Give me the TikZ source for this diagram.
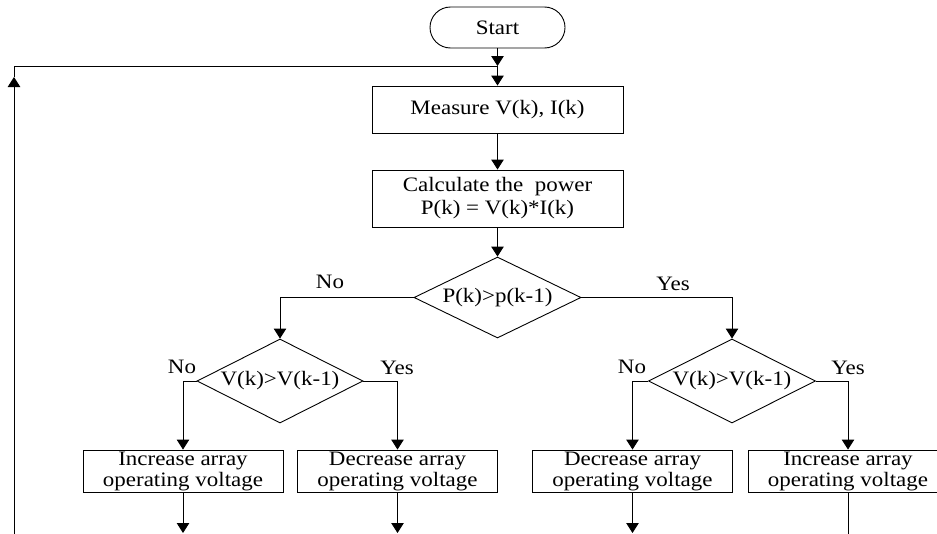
\documentclass[tikz,border=0pt]{standalone}
\usepackage{fontspec}
\setmainfont{Liberation Serif}
\usepackage{graphicx}
\usetikzlibrary{shapes.geometric,shapes.misc,arrows.meta}
\newcommand{\hs}[1]{\scalebox{1.12}[1]{#1}}
\newcommand{\fs}{\fontsize{20.5}{21}\selectfont}
\begin{document}
\begin{tikzpicture}[x=1pt,y=-1pt,line width=0.9pt,
  box/.style={draw, rectangle, inner sep=0pt, align=center, font=\fs},
  term/.style={draw, rounded rectangle, inner sep=0pt, minimum width=135pt, minimum height=41pt, font=\fs},
  decision/.style={draw, diamond, inner sep=0pt, aspect=2, font=\fs},
  arr/.style={-{Triangle[width=12.5pt,length=10pt]}},
  lbl/.style={inner sep=0pt, font=\fs}]
\useasboundingbox (0,0) rectangle (937,533);
\fill[white] (0,0) rectangle (937,533);

\node[term] (start) at (497.5,27.5) {\hs{Start}};
\node[box, minimum width=251pt, minimum height=47pt] (meas) at (497.5,109.5) {\hs{Measure V(k), I(k)}};
\node[box, minimum width=251pt, minimum height=57pt, font=\fontsize{20.5}{23}\selectfont] (calc) at (497.5,198.5) {\hs{Calculate the\ \ power}\\\hs{P(k) = V(k)*I(k)}};
\node[decision, minimum width=167pt, minimum height=81pt] (dp) at (497.5,297.5) {\hs{P(k)>p(k-1)}};
\node[decision, minimum width=166pt, minimum height=84pt] (dl) at (280,381) {\hs{V(k)>V(k-1)}};
\node[decision, minimum width=167pt, minimum height=84pt] (dr) at (732,381) {\hs{V(k)>V(k-1)}};

\node[box, minimum width=200pt, minimum height=42pt] (b1) at (183,471) {\hs{Increase array}\\\hs{operating voltage}};
\node[box, minimum width=200pt, minimum height=42pt] (b2) at (397.5,471) {\hs{Decrease array}\\\hs{operating voltage}};
\node[box, minimum width=200pt, minimum height=42pt] (b3) at (632.5,471) {\hs{Decrease array}\\\hs{operating voltage}};
\node[box, minimum width=200pt, minimum height=42pt] (b4) at (848,471) {\hs{Increase array}\\\hs{operating voltage}};

\node[lbl] (no1) at (330,282) {\hs{No}};
\node[lbl] (yes1) at (673,284) {\hs{Yes}};
\node[lbl] (no2) at (182,367) {\hs{No}};
\node[lbl] (yes2) at (397,368) {\hs{Yes}};
\node[lbl] (no3) at (632,367) {\hs{No}};
\node[lbl] (yes3) at (848,368) {\hs{Yes}};

% loop
\coordinate (lb) at (14,540);
\coordinate (ltip) at (14,77);
\coordinate (lt) at (14,66);
\coordinate (lj) at (497.5,66);
\draw[arr] (lb) -- (ltip);
\draw (ltip) -- (lt) -- (lj);
\draw[arr] (start.south) -- (lj);
\draw[arr] (lj) -- (meas.north);
\draw[arr] (meas.south) -- (calc.north);
\draw[arr] (calc.south) -- (dp.north);
\draw[arr] (dp.west) -| (dl.north);
\draw[arr] (dp.east) -| (dr.north);
\draw[arr] (dl.west) -| (b1.north);
\draw[arr] (dl.east) -| (b2.north);
\draw[arr] (dr.west) -| (b3.north);
\draw[arr] (dr.east) -| (b4.north);

\coordinate (e1) at (183,533);
\coordinate (e2) at (397.5,533);
\coordinate (e3) at (632.5,533);
\coordinate (e4) at (848,540);
\draw[arr] (b1.south) -- (e1);
\draw[arr] (b2.south) -- (e2);
\draw[arr] (b3.south) -- (e3);
\draw (b4.south) -- (e4);
\end{tikzpicture}
\end{document}
